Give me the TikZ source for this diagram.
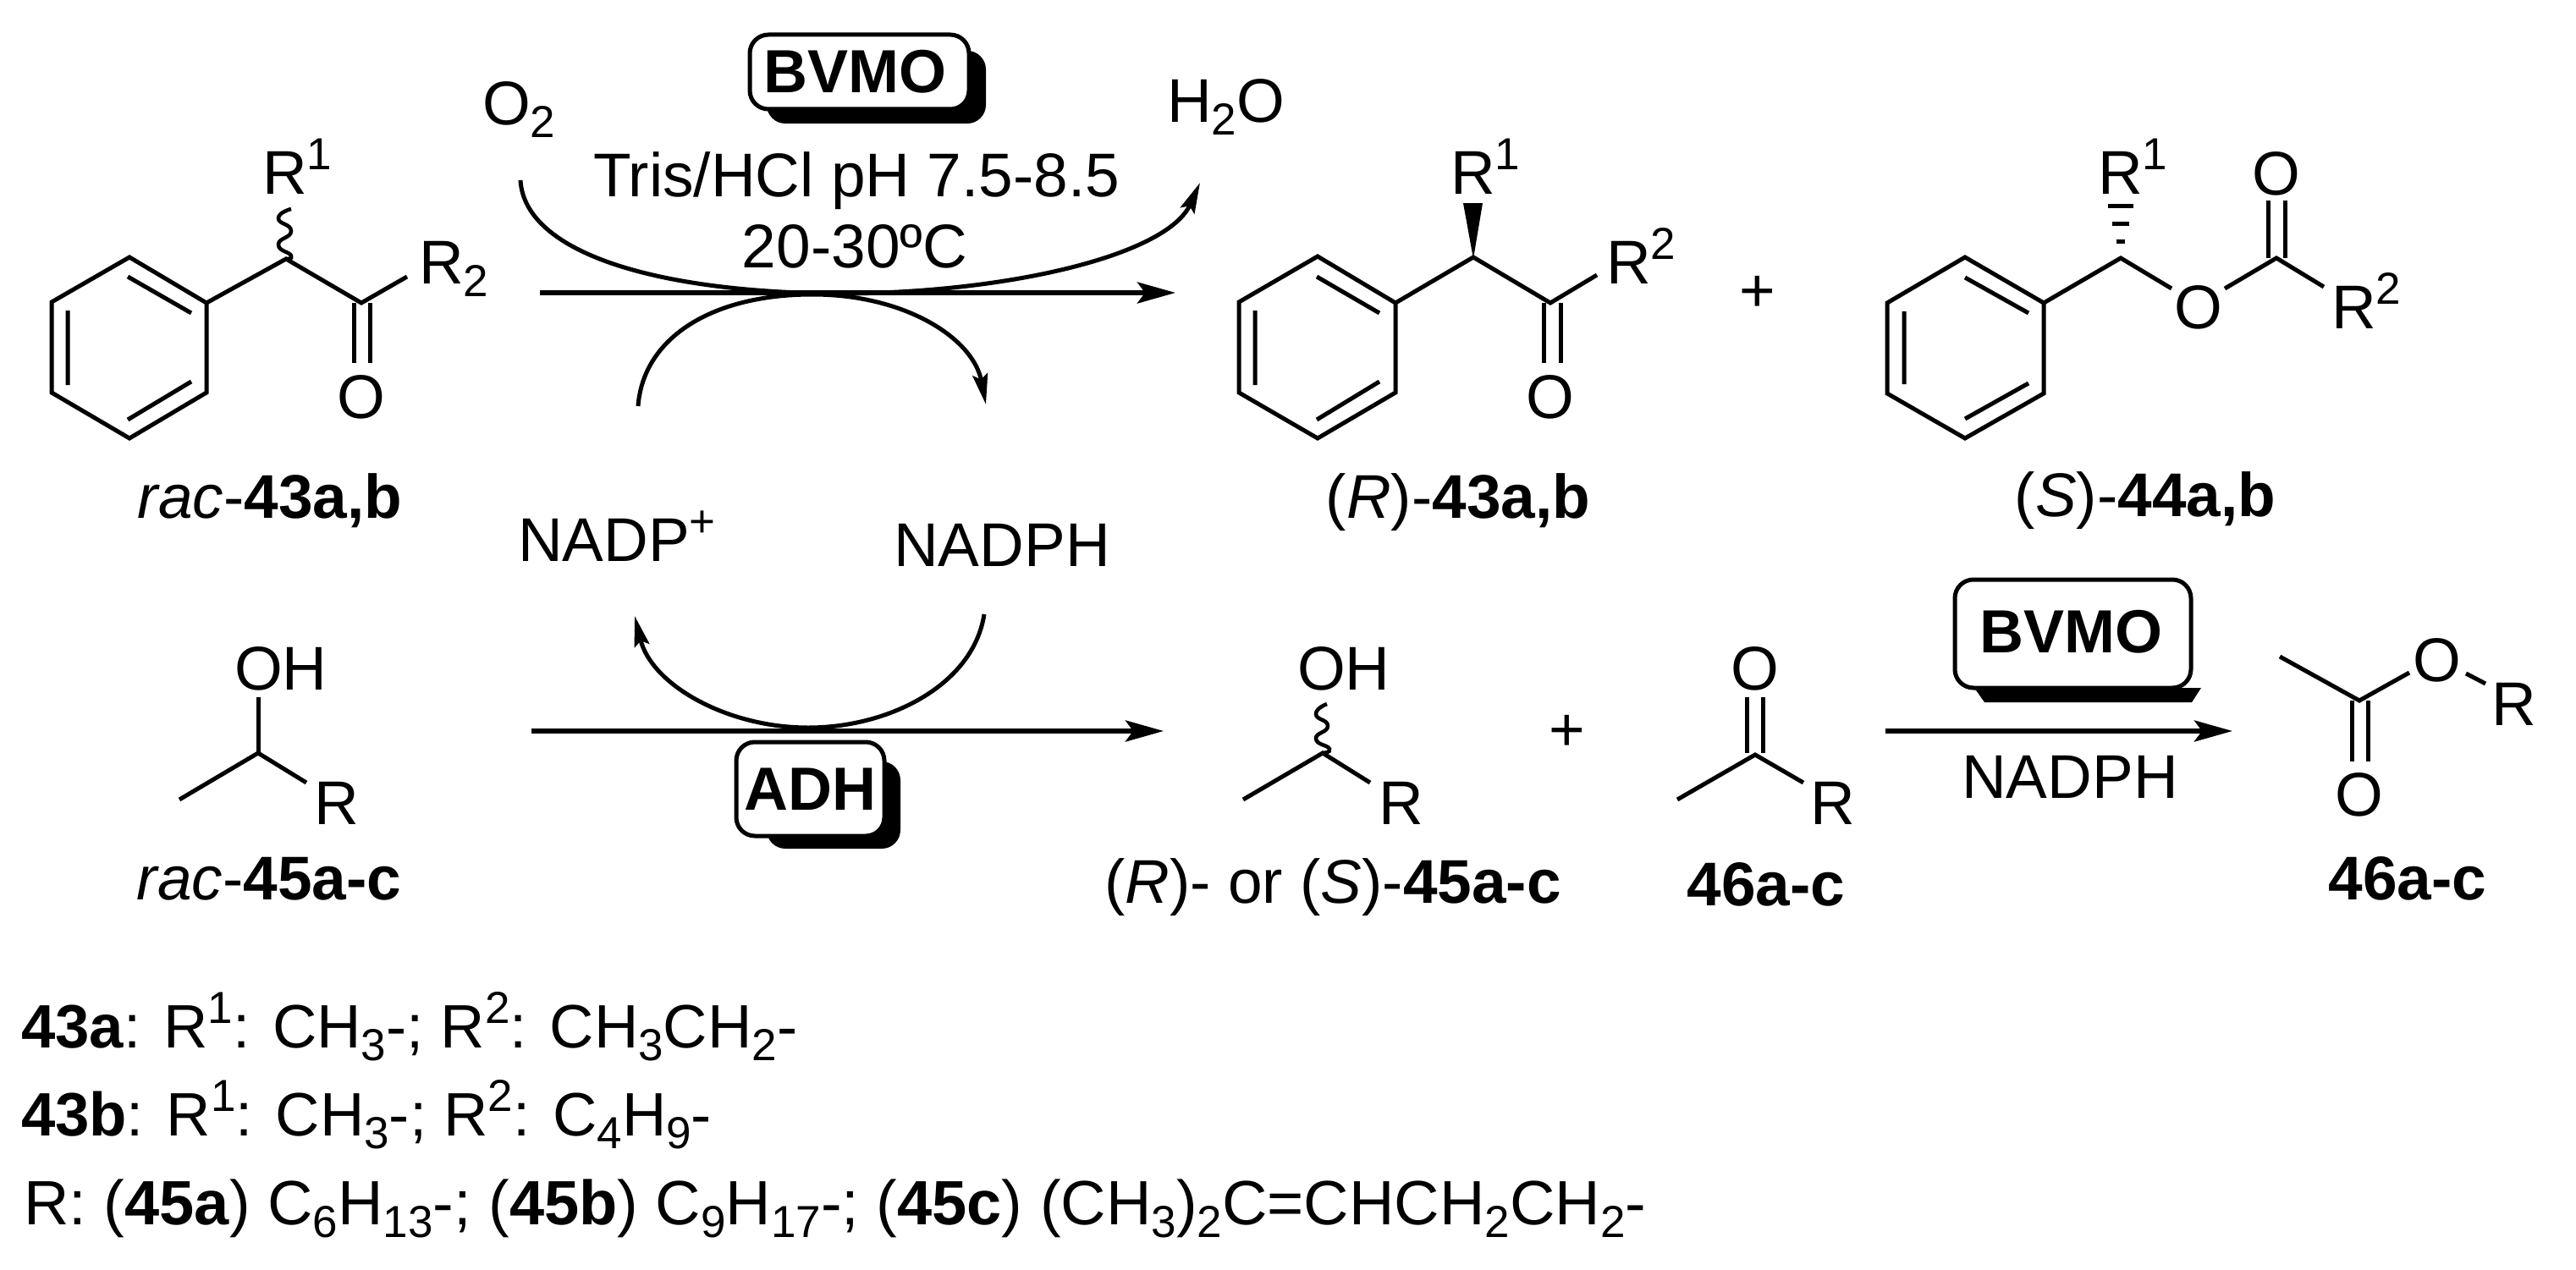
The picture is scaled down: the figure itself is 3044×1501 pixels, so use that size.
\documentclass[tikz,border=0pt]{standalone}
\usepackage{fontspec}
\setmainfont{Liberation Sans}
\usetikzlibrary{arrows.meta}
\newcommand\hsup[1]{\raisebox{29pt}{\fontsize{53}{53}\selectfont #1}}
\newcommand\hsub[1]{\raisebox{-15pt}{\fontsize{53}{53}\selectfont #1}}
\tikzset{
  lbl/.style={inner sep=0pt,outer sep=0pt,anchor=base west,font=\fontsize{73}{80}\selectfont},
  clbl/.style={lbl,anchor=base},
  bond/.style={line width=5pt,line join=miter},
  rxn/.style={line width=5.5pt,-{Stealth[length=45pt,width=25pt,inset=9pt]}},
  cyc/.style={line width=5pt,-{Stealth[length=36pt,width=18pt,inset=6pt]}},
  enz/.style={draw,line width=5pt,rounded corners=22pt,fill=white,inner sep=0pt,font=\fontsize{72}{80}\selectfont\bfseries},
  shade/.style={fill=black,rounded corners=22pt},
  wavy/.style={line width=4.5pt,smooth,tension=1},
}
\begin{document}
\begin{tikzpicture}[x=1pt,y=-1pt]
\useasboundingbox (0,0) rectangle (3044,1501);
\fill[white] (0,0) rectangle (3044,1501);

% reaction arrows
\coordinate (a1s) at (638,346); \coordinate (a1e) at (1389,346);
\coordinate (a2s) at (628,864); \coordinate (a2e) at (1375,864);
\coordinate (a3s) at (2228,864); \coordinate (a3e) at (2638,864);
\coordinate (c1s) at (615,213); \coordinate (c1m) at (1000,347); \coordinate (c1e) at (1418,216);
\coordinate (c2s) at (754,480); \coordinate (c2m) at (960,348); \coordinate (c2e) at (1165,478);
\coordinate (c3s) at (1163,726); \coordinate (c3m) at (955,860); \coordinate (c3e) at (750,728);
\draw[rxn] (a1s) -- (a1e);
\draw[rxn] (a2s) -- (a2e);
\draw[rxn] (a3s) -- (a3e);
\draw[cyc] (c1s) .. controls (620,300) and (780,347) .. (c1m) .. controls (1200,345) and (1380,300) .. (c1e);
\draw[cyc] (c2s) .. controls (760,400) and (840,348) .. (c2m) .. controls (1070,348) and (1150,400) .. (c2e);
\draw[cyc] (c3s) .. controls (1150,810) and (1050,860) .. (c3m) .. controls (860,860) and (770,810) .. (c3e);

% enzyme boxes
\fill[shade] (906,60) rectangle (1165,146);
\node[enz,minimum width=259pt,minimum height=88pt] (bv1) at (1015.5,85) {\raisebox{-5pt}{BVMO}\kern10pt};
\fill[black] (2333,813) -- (2345,830) -- (2590,830) -- (2601,813) -- cycle;
\node[enz,minimum width=279pt,minimum height=128pt] (bv2) at (2449.5,749) {\raisebox{5pt}{BVMO}\kern4pt};
\fill[shade] (906,900) rectangle (1064,1003);
\node[enz,minimum width=175pt,minimum height=111pt] (adh) at (957.5,932.5) {ADH};

% reagent labels
\node[lbl] (o2) at (570,148) {O\hsub{2}};
\node[lbl] (h2o) at (1379,145) {H\hsub{2}O};
\node[clbl] (cond1) at (1012,232) {Tris/HCl pH 7.5-8.5};
\node[clbl] (cond2) at (1010,316) {20-30ºC};
\node[lbl] (nadp) at (612,663) {NADP\hsup{+}};
\node[clbl] (nadph) at (1184,669) {NADPH};
\node[clbl] (nadph2) at (2446,943) {NADPH};
\node[clbl] (p1) at (2077,368) {+};
\node[clbl] (p2) at (1852,887) {+};

% rac-43
\draw[bond] (153,304) -- (244,358) -- (244,464) -- (153,518) -- (61,464) -- (61,357) -- cycle;
\draw[bond] (151,327) -- (226,370) (80,367) -- (80,455) (151,496) -- (226,451);
\draw[bond] (244,358) -- (338,306) -- (427,358) -- (481,327);
\draw[bond] (418,358) -- (418,429) (437,358) -- (437,429);
\draw[wavy] plot coordinates {(344,247) (329,258) (344,273) (329,289) (344,302) (338,306)};
\node[lbl] (r1a) at (310,229) {R\hsup{1}};
\node[lbl] (r2a) at (495,335) {R\hsub{2}};
\node[clbl] (oa) at (427,494) {O};
\node[clbl] (lab1) at (319,612) {\itshape rac\upshape-\bfseries 43a,b};

% (R)-43
\draw[bond] (1557,303) -- (1649,358) -- (1649,464) -- (1557,518) -- (1464,464) -- (1464,357) -- cycle;
\draw[bond] (1556,327) -- (1630,370) (1483,367) -- (1483,455) (1556,496) -- (1630,451);
\draw[bond] (1649,358) -- (1741,304) -- (1832,358) -- (1887,325);
\draw[bond] (1824,358) -- (1824,429) (1844,358) -- (1844,429);
\fill (1741,306) -- (1729,240) -- (1752,240) -- cycle;
\node[lbl] (r1b) at (1714,229) {R\hsup{1}};
\node[lbl] (r2b) at (1898,335) {R\hsup{2}};
\node[clbl] (ob) at (1832,494) {O};
\node[clbl] (lab2) at (1723,612) {(\textit{R})-\bfseries 43a,b};

% (S)-44
\draw[bond] (2322,304) -- (2415,358) -- (2415,465) -- (2322,518) -- (2230,465) -- (2230,358) -- cycle;
\draw[bond] (2322,328) -- (2397,370) (2250,368) -- (2250,454) (2322,495) -- (2397,453);
\draw[bond] (2415,358) -- (2506,305) -- (2566,341);
\draw[bond] (2629,341) -- (2690,305) -- (2746,339);
\draw[bond] (2680,305) -- (2680,237) (2700,305) -- (2700,237);
\draw[line width=5pt] (2501,285) -- (2511,285) (2496,264) -- (2516,264) (2491,243) -- (2521,243);
\node[lbl] (r1c) at (2479,229) {R\hsup{1}};
\node[lbl] (r2c) at (2755,388) {R\hsup{2}};
\node[clbl] (oc1) at (2598,388) {O};
\node[clbl] (oc2) at (2690,230) {O};
\node[clbl] (lab3) at (2535,610) {(\textit{S})-\bfseries 44a,b};

% rac-45
\draw[bond] (305,824) -- (305,890);
\draw[bond] (212,945) -- (305,890) -- (362,925);
\node[lbl] (oh1) at (277,815) {OH};
\node[lbl] (rd) at (371,974) {R};
\node[clbl] (lab4) at (318,1063) {\itshape rac\upshape-\bfseries 45a-c};

% (R)- or (S)-45
\draw[bond] (1469,945) -- (1563,890) -- (1619,925);
\draw[wavy] plot coordinates {(1568,832) (1555,844) (1569,858) (1555,873) (1571,885) (1563,890)};
\node[lbl] (oh2) at (1533,815) {OH};
\node[lbl] (re) at (1629,974) {R};
\node[clbl] (lab5) at (1575,1067) {(\textit{R})- or (\textit{S})-\bfseries 45a-c};

% 46 ketone
\draw[bond] (1982,945) -- (2074,892) -- (2131,925);
\draw[bond] (2064,824) -- (2064,890) (2083,824) -- (2083,890);
\node[clbl] (of) at (2074,815) {O};
\node[lbl] (rf) at (2139,974) {R};
\node[clbl] (lab6) at (2087,1070) {\bfseries 46a-c};

% 46 ester
\draw[bond] (2694,776) -- (2788,828) -- (2847,795);
\draw[bond] (2914,796) -- (2937,808);
\draw[bond] (2779,828) -- (2779,900) (2798,828) -- (2798,900);
\node[clbl] (og1) at (2880,805) {O};
\node[clbl] (og2) at (2788,964) {O};
\node[lbl] (rg) at (2944,857) {R};
\node[clbl] (lab7) at (2845,1063) {\bfseries 46a-c};

% legend
\node[lbl,font=\fontsize{72.5}{80}\selectfont] (l1) at (25,1238) {\textbf{43a}: R\hsup{1}: CH\hsub{3}-; R\hsup{2}: CH\hsub{3}CH\hsub{2}-};
\node[lbl,font=\fontsize{72.5}{80}\selectfont] (l2) at (25,1342) {\textbf{43b}: R\hsup{1}: CH\hsub{3}-; R\hsup{2}: C\hsub{4}H\hsub{9}-};
\node[lbl,font=\fontsize{74}{80}\selectfont] (l3) at (28,1447) {R: (\textbf{45a}) C\hsub{6}H\hsub{13}-; (\textbf{45b}) C\hsub{9}H\hsub{17}-; (\textbf{45c}) (CH\hsub{3})\hsub{2}C=CHCH\hsub{2}CH\hsub{2}-};
\end{tikzpicture}
\end{document}
